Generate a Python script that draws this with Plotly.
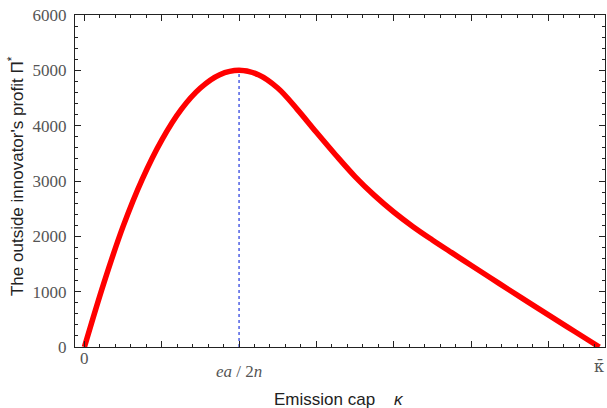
import plotly.graph_objects as go

# Data (x in units of major ticks, ea/2n = 2)
kappa = [0, 0.25, 0.5, 0.75, 1.0, 1.25, 1.5, 1.75, 2.0, 2.25, 2.5, 2.75, 3.0,
         3.25, 3.5, 3.75, 4.0, 4.25, 4.5, 4.75, 5.0, 5.25, 5.5, 5.75, 6.0,
         6.25, 6.5, 6.66]
profit = [0, 1150, 2180, 3040, 3740, 4290, 4680, 4920, 5000, 4920, 4680, 4300,
          3880, 3470, 3080, 2740, 2440, 2175, 1935, 1705, 1478, 1252, 1026, 802,
          580, 360, 140, 0]

peak_x = [2.0, 2.0]
peak_y = [0, 5000]

xtick_vals = [0, 2.0, 6.66]
xtick_text = ["0", "<i>ea</i> / 2<i>n</i>", "κ\u0304"]
xtick_yshift = [0, -13, -8]
xtick_fonts = ["Liberation Serif", "Liberation Serif", "DejaVu Serif"]
xtick_sizes = [17, 17, 16]

fig = go.Figure()
fig.add_trace(go.Scatter(x=peak_x, y=peak_y, mode="lines",
                         line=dict(color="#3347e0", width=1.3, dash="dot"),
                         showlegend=False, hoverinfo="skip"))
fig.add_trace(go.Scatter(x=kappa, y=profit, mode="lines",
                         line=dict(color="#ff0000", width=5.5, shape="spline", smoothing=1.0),
                         showlegend=False))

axis_common = dict(showline=True, linecolor="#222", linewidth=1.2, mirror="ticks",
                   ticks="inside", tickcolor="#222", tickwidth=1.2, ticklen=6,
                   showgrid=False, zeroline=False)

fig.update_xaxes(range=[-0.122, 6.733], dtick=1, tick0=0, showticklabels=False,
                 minor=dict(ticks="inside", dtick=0.2, tick0=0, ticklen=3,
                            tickcolor="#222", tickwidth=1, showgrid=False),
                 **axis_common)
fig.update_yaxes(range=[0, 6000], dtick=1000, tick0=0,
                 tickfont=dict(family="Liberation Serif", size=17, color="#555"),
                 ticklabelstandoff=4,
                 minor=dict(ticks="inside", dtick=200, tick0=0, ticklen=3,
                            tickcolor="#222", tickwidth=1, showgrid=False),
                 **axis_common)

annotations = []
for v, t, ys, fam, sz in zip(xtick_vals, xtick_text, xtick_yshift, xtick_fonts, xtick_sizes):
    annotations.append(dict(x=v, y=0, xref="x", yref="paper", text=t, showarrow=False,
                            xanchor="center", yanchor="top", yshift=ys,
                            font=dict(family=fam, size=sz, color="#555")))
annotations.append(dict(x=0, y=0.515, xref="paper", yref="paper",
                        text="The outside innovator's profit Π<sup>*</sup>",
                        textangle=-90, showarrow=False, xanchor="center", yanchor="middle",
                        xshift=-59,
                        font=dict(family="Liberation Sans", size=17, color="#222")))
annotations.append(dict(x=0.5, y=0, xref="paper", yref="paper",
                        text="Emission cap    <i>κ</i>", showarrow=False,
                        xanchor="center", yanchor="middle", xshift=339 - (75 + 605) / 2,
                        yshift=-52,
                        font=dict(family="Liberation Sans", size=17, color="#222")))

fig.update_layout(width=607, height=408, margin=dict(l=75, r=2, t=15, b=61),
                  plot_bgcolor="white", paper_bgcolor="white",
                  annotations=annotations)

fig.write_html("out.html")
